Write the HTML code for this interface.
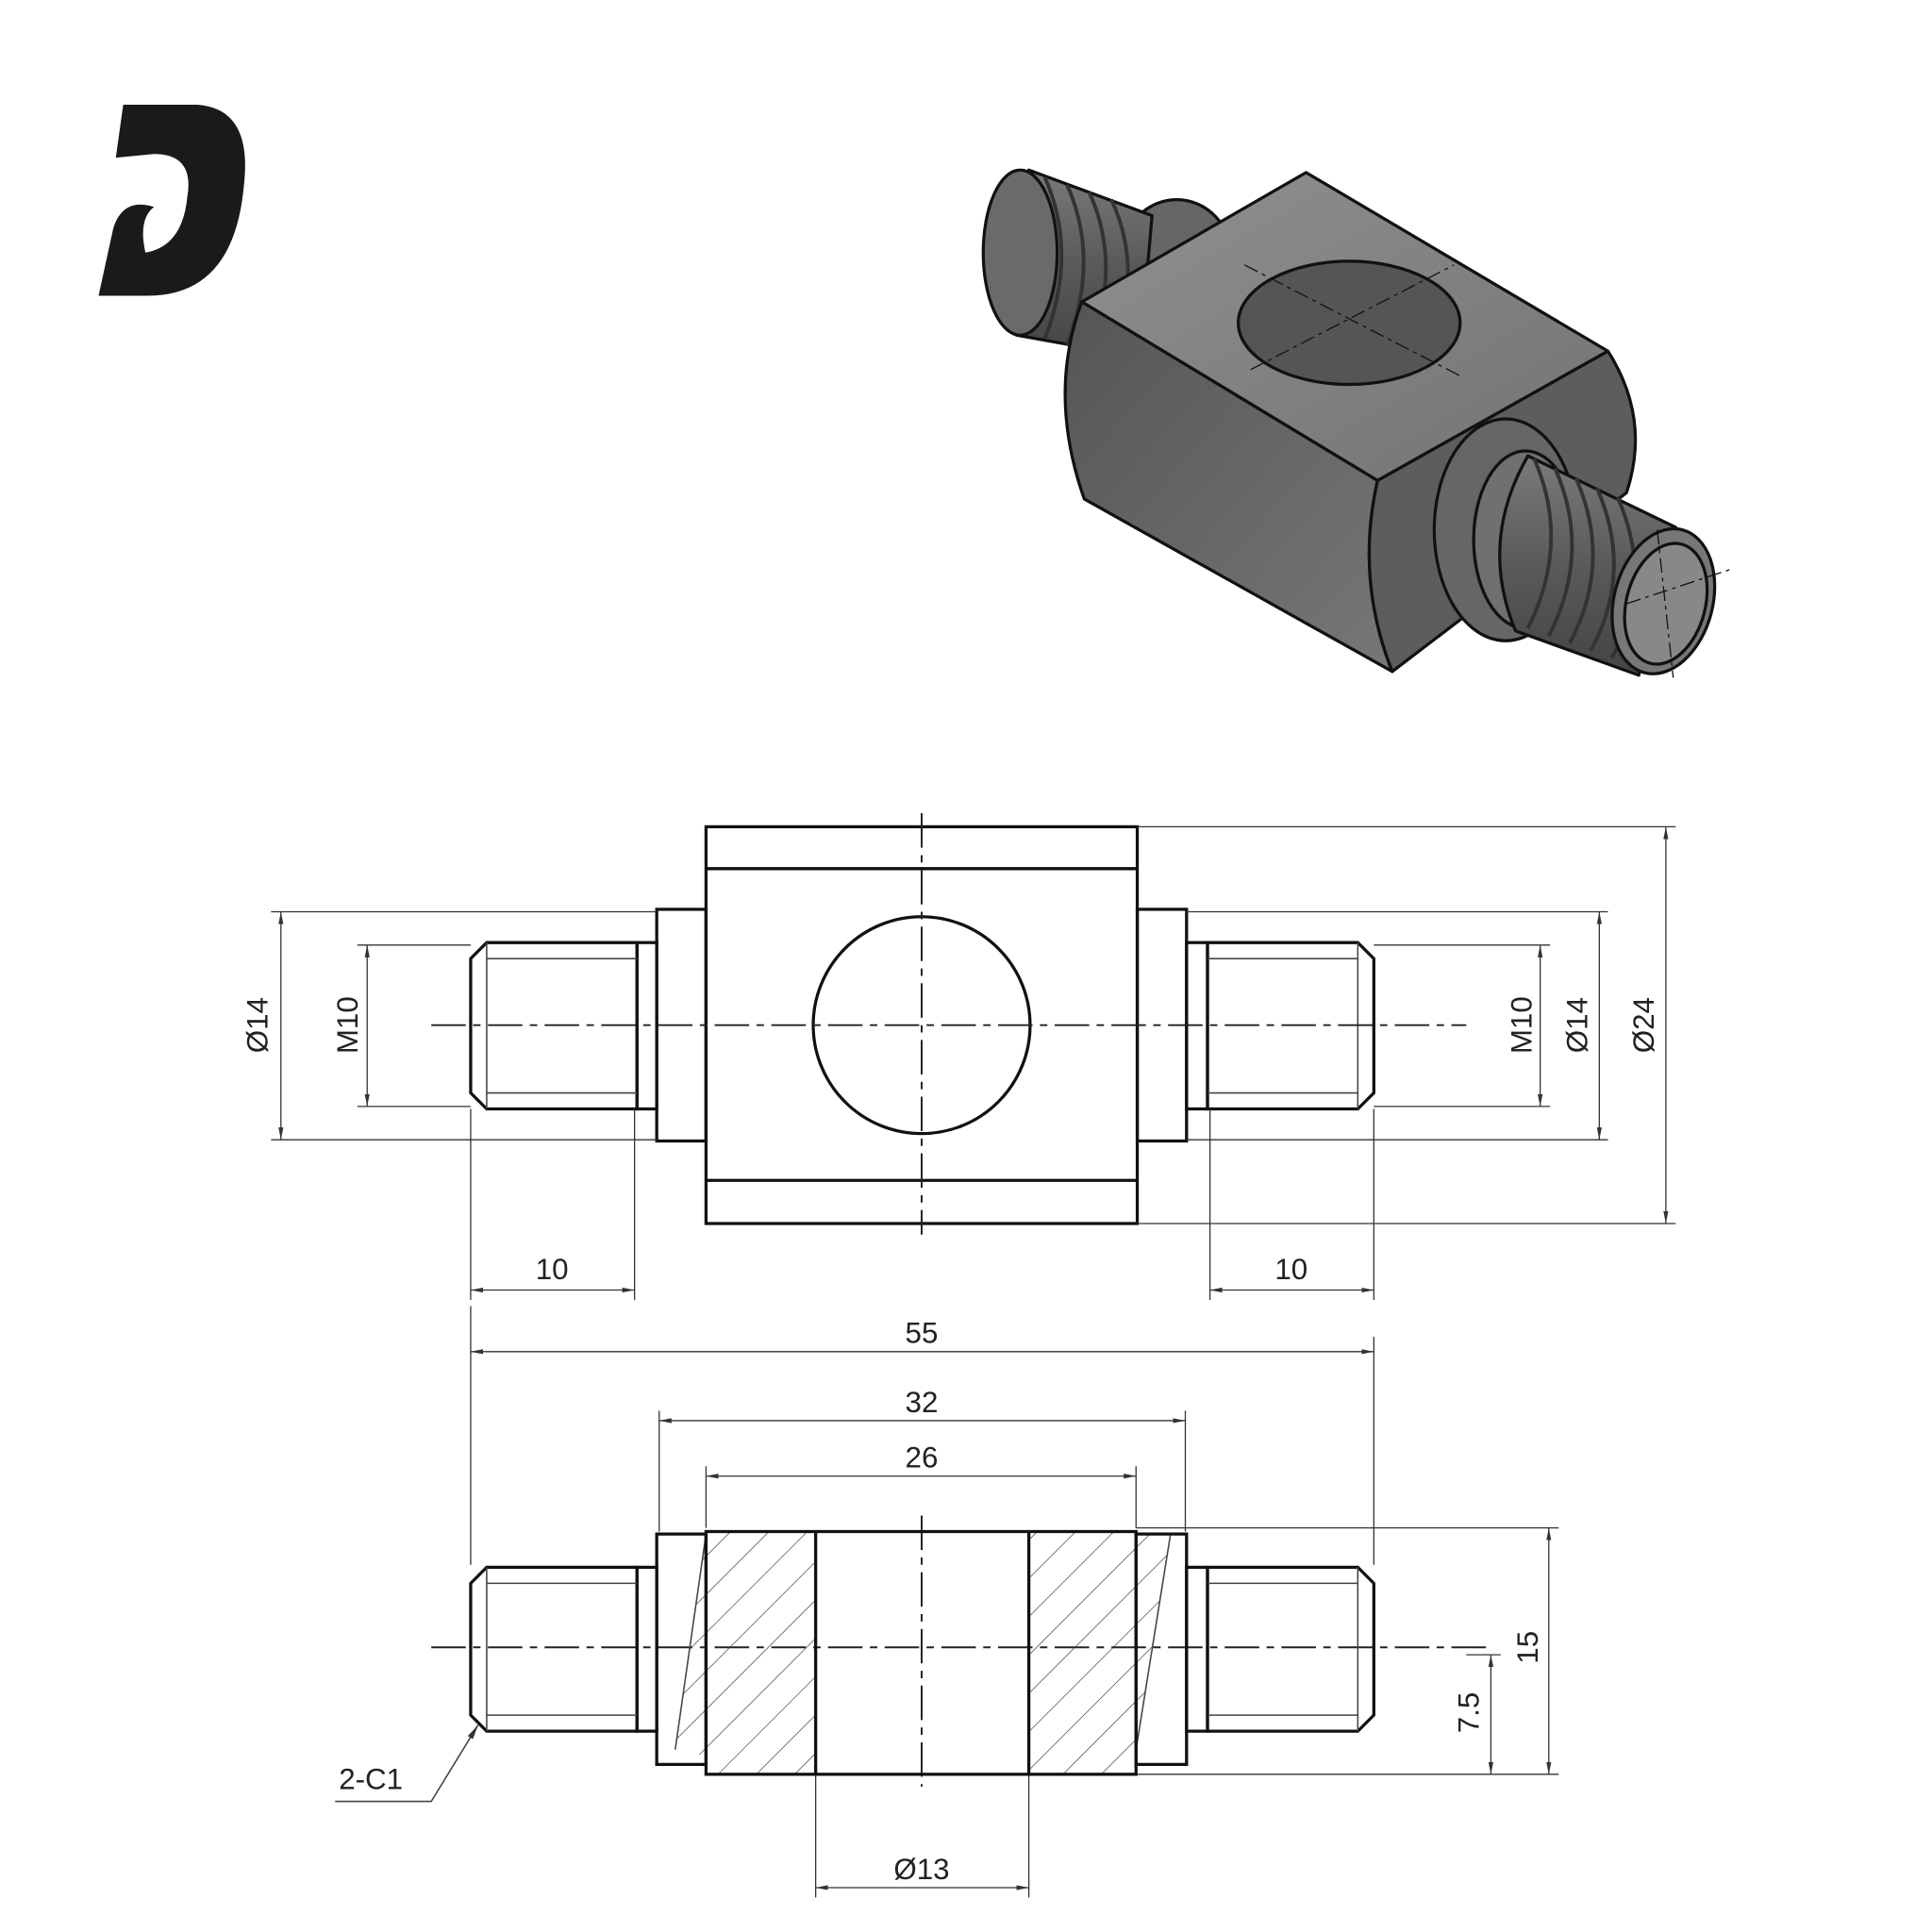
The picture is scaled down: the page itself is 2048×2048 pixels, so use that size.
<!DOCTYPE html>
<html><head><meta charset="utf-8"><style>
html,body{margin:0;padding:0;background:#fff}
svg{display:block}
text{font-family:"Liberation Sans",sans-serif;fill:#222}
</style></head><body>
<svg width="2048" height="2048" viewBox="0 0 1568 1568" xmlns="http://www.w3.org/2000/svg">
<defs>
<pattern id="h" patternUnits="userSpaceOnUse" width="22" height="22" patternTransform="rotate(45)">
<line x1="0" y1="0" x2="0" y2="22" stroke="#333" stroke-width="1"/></pattern>
<linearGradient id="g1" x1="0" y1="0" x2="1" y2="1"><stop offset="0" stop-color="#555"/><stop offset="1" stop-color="#777"/></linearGradient>
<linearGradient id="g2" x1="0" y1="0" x2="1" y2="1"><stop offset="0" stop-color="#909090"/><stop offset="1" stop-color="#737373"/></linearGradient>
<linearGradient id="gt" x1="0" y1="0" x2="0" y2="1"><stop offset="0" stop-color="#7a7a7a"/><stop offset=".5" stop-color="#5a5a5a"/><stop offset="1" stop-color="#444"/></linearGradient>
<marker id="a" viewBox="0 0 10 10" refX="10" refY="5" markerWidth="10" markerHeight="10" orient="auto-start-reverse"><path d="M0,3 L10,5 L0,7z" fill="#333"/></marker>
</defs>
<rect width="1568" height="1568" fill="#fff"/>
<!-- logo -->
<path d="M100,85 L160,85 Q205,88 198,150 Q190,240 120,240 L80,240 L92,185 Q100,160 125,168 Q112,178 118,205 Q148,200 152,160 Q158,125 125,125 L94,128 Z" fill="#1a1a1a"/>
<!-- isometric -->
<g stroke="#111" stroke-width="2.5" stroke-linejoin="round">
<!-- left thread -->
<ellipse cx="955" cy="210" rx="45" ry="48" fill="#666"/>
<path d="M835,138 L935,175 L925,290 L825,272 Z" fill="url(#gt)"/>
<ellipse cx="828" cy="205" rx="30" ry="67" fill="#6a6a6a"/>
<g stroke="#333" stroke-width="3" fill="none">
<path d="M848,144 Q875,205 848,275"/><path d="M866,150 Q893,210 866,280"/><path d="M884,156 Q911,215 884,284"/><path d="M902,162 Q929,220 902,287"/>
</g>
<!-- body -->
<path d="M878,245 L1060,140 L1305,285 L1118,390 Z" fill="url(#g2)"/>
<path d="M878,245 L1118,390 Q1100,470 1130,545 L880,405 Q850,320 878,245 Z" fill="url(#g1)"/>
<path d="M1118,390 L1305,285 Q1340,340 1320,400 L1130,545 Q1100,470 1118,390 Z" fill="#5d5d5d"/>
<ellipse cx="1095" cy="262" rx="90" ry="50" fill="#555"/>
<!-- right thread -->
<ellipse cx="1222" cy="430" rx="58" ry="90" fill="#666"/>
<ellipse cx="1238" cy="438" rx="42" ry="72" fill="#707070"/>
<path d="M1240,370 L1360,428 L1330,548 L1230,512 Q1200,440 1240,370 Z" fill="url(#gt)"/>
<g stroke="#333" stroke-width="3" fill="none">
<path d="M1245,372 Q1275,440 1240,510"/><path d="M1262,380 Q1292,448 1257,516"/><path d="M1279,388 Q1309,456 1274,522"/><path d="M1296,396 Q1326,464 1291,528"/><path d="M1313,404 Q1343,472 1308,534"/>
</g>
<ellipse cx="1350" cy="488" rx="40" ry="60" transform="rotate(15 1350 488)" fill="#777"/>
<ellipse cx="1352" cy="490" rx="32" ry="50" transform="rotate(15 1352 490)" fill="#888"/>
</g>
<g stroke="#111" stroke-width="1" stroke-dasharray="12,4,3,4" fill="none">
<line x1="1010" y1="215" x2="1185" y2="305"/><line x1="1015" y1="300" x2="1180" y2="215"/>
<line x1="1320" y1="490" x2="1405" y2="462"/><line x1="1345" y1="430" x2="1358" y2="550"/>
</g>
<!-- top view -->
<g stroke="#111" stroke-width="2.5" fill="none">
<rect x="573" y="671" width="350" height="322"/>
<line x1="573" y1="705" x2="923" y2="705"/><line x1="573" y1="958" x2="923" y2="958"/>
<rect x="533" y="738" width="40" height="188"/><rect x="923" y="738" width="40" height="188"/>
<path d="M517,765 L395,765 L382,778 L382,887 L395,900 L517,900 Z"/>
<rect x="517" y="765" width="16" height="135"/>
<path d="M980,765 L1102,765 L1115,778 L1115,887 L1102,900 L980,900 Z"/>
<rect x="963" y="765" width="17" height="135"/>
<circle cx="748" cy="832" r="88"/>
</g>
<g stroke="#444" stroke-width="1.2" fill="none">
<line x1="395" y1="778" x2="517" y2="778"/><line x1="395" y1="887" x2="517" y2="887"/><line x1="395" y1="765" x2="395" y2="900"/>
<line x1="980" y1="778" x2="1102" y2="778"/><line x1="980" y1="887" x2="1102" y2="887"/><line x1="1102" y1="765" x2="1102" y2="900"/>
</g>
<g stroke="#222" stroke-width="1.5" stroke-dasharray="28,6,6,6" fill="none">
<line x1="350" y1="832" x2="1190" y2="832"/><line x1="748" y1="660" x2="748" y2="1002"/>
<line x1="350" y1="1337" x2="1210" y2="1337"/><line x1="748" y1="1230" x2="748" y2="1450"/>
</g>
<g stroke="#333" stroke-width="1" fill="none">
<line x1="220" y1="740" x2="533" y2="740"/><line x1="220" y1="925" x2="533" y2="925"/>
<line x1="290" y1="767" x2="382" y2="767"/><line x1="290" y1="898" x2="382" y2="898"/>
<line x1="963" y1="740" x2="1305" y2="740"/><line x1="963" y1="925" x2="1305" y2="925"/>
<line x1="1115" y1="767" x2="1258" y2="767"/><line x1="1115" y1="898" x2="1258" y2="898"/>
<line x1="923" y1="671" x2="1360" y2="671"/><line x1="923" y1="993" x2="1360" y2="993"/>
<line x1="382" y1="900" x2="382" y2="1055"/><line x1="515" y1="900" x2="515" y2="1055"/>
<line x1="982" y1="900" x2="982" y2="1055"/><line x1="1115" y1="900" x2="1115" y2="1055"/>
<line x1="382" y1="1060" x2="382" y2="1270"/><line x1="1115" y1="1085" x2="1115" y2="1270"/>
<line x1="535" y1="1145" x2="535" y2="1243"/><line x1="962" y1="1145" x2="962" y2="1243"/>
<line x1="573" y1="1190" x2="573" y2="1240"/><line x1="922" y1="1190" x2="922" y2="1240"/>
<line x1="922" y1="1240" x2="1265" y2="1240"/><line x1="922" y1="1440" x2="1265" y2="1440"/>
<line x1="1190" y1="1343" x2="1218" y2="1343"/>
<line x1="662" y1="1440" x2="662" y2="1540"/><line x1="835" y1="1440" x2="835" y2="1540"/>
</g>
<g stroke="#333" stroke-width="1" fill="none" marker-start="url(#a)" marker-end="url(#a)">
<line x1="228" y1="740" x2="228" y2="925"/><line x1="298" y1="767" x2="298" y2="898"/>
<line x1="1250" y1="767" x2="1250" y2="898"/><line x1="1298" y1="740" x2="1298" y2="925"/><line x1="1352" y1="671" x2="1352" y2="993"/>
<line x1="382" y1="1047" x2="515" y2="1047"/><line x1="982" y1="1047" x2="1115" y2="1047"/>
<line x1="382" y1="1097" x2="1115" y2="1097"/><line x1="535" y1="1153" x2="962" y2="1153"/><line x1="573" y1="1198" x2="922" y2="1198"/>
<line x1="1257" y1="1240" x2="1257" y2="1440"/><line x1="1210" y1="1343" x2="1210" y2="1440"/>
<line x1="662" y1="1532" x2="835" y2="1532"/>
</g>
<g font-size="24" text-anchor="middle">
<text transform="translate(217,832) rotate(-90)">Ø14</text>
<text transform="translate(290,832) rotate(-90)">M10</text>
<text transform="translate(1243,832) rotate(-90)">M10</text>
<text transform="translate(1288,832) rotate(-90)">Ø14</text>
<text transform="translate(1342,832) rotate(-90)">Ø24</text>
<text x="448" y="1038">10</text><text x="1048" y="1038">10</text>
<text x="748" y="1090">55</text><text x="748" y="1146">32</text><text x="748" y="1191">26</text>
<text transform="translate(1248,1337) rotate(-90)">15</text>
<text transform="translate(1200,1390) rotate(-90)">7.5</text>
<text x="748" y="1525">Ø13</text>
<text x="301" y="1452">2-C1</text>
</g>
<!-- bottom view -->
<rect x="573" y="1243" width="89" height="197" fill="url(#h)"/>
<rect x="835" y="1243" width="87" height="197" fill="url(#h)"/>
<path d="M922,1243 L950,1245 L922,1420 Z" fill="url(#h)"/>
<path d="M573,1243 L548,1420 L573,1425 Z" fill="url(#h)"/>
<g stroke="#444" stroke-width="1.2"><line x1="950" y1="1245" x2="922" y2="1420"/><line x1="573" y1="1245" x2="548" y2="1420"/></g>
<g stroke="#111" stroke-width="2.5" fill="none">
<rect x="573" y="1243" width="349" height="197"/>
<line x1="662" y1="1243" x2="662" y2="1440"/><line x1="835" y1="1243" x2="835" y2="1440"/>
<rect x="533" y="1245" width="40" height="187"/><rect x="922" y="1245" width="41" height="187"/>
<path d="M517,1272 L395,1272 L382,1285 L382,1392 L395,1405 L517,1405 Z"/>
<rect x="517" y="1272" width="16" height="133"/>
<path d="M980,1272 L1102,1272 L1115,1285 L1115,1392 L1102,1405 L980,1405 Z"/>
<rect x="963" y="1272" width="17" height="133"/>
</g>
<g stroke="#444" stroke-width="1.2" fill="none">
<line x1="395" y1="1285" x2="517" y2="1285"/><line x1="395" y1="1392" x2="517" y2="1392"/><line x1="395" y1="1272" x2="395" y2="1405"/>
<line x1="980" y1="1285" x2="1102" y2="1285"/><line x1="980" y1="1392" x2="1102" y2="1392"/><line x1="1102" y1="1272" x2="1102" y2="1405"/>
<path d="M388,1400 L350,1462 L272,1462" marker-start="url(#a)"/>
</g>
</svg>
</body></html>
